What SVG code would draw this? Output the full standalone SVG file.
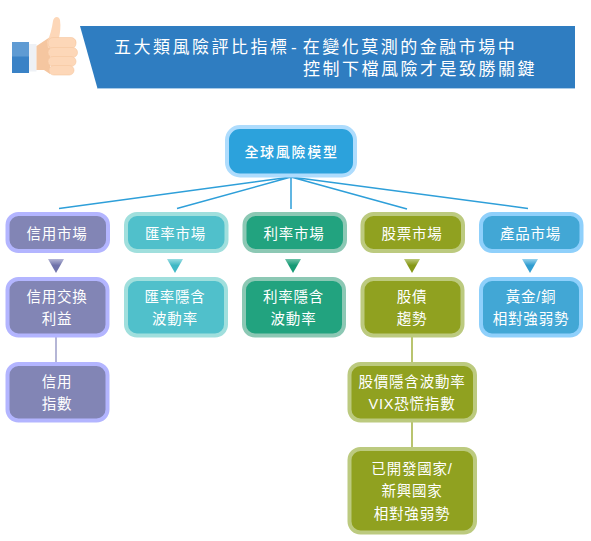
<svg xmlns="http://www.w3.org/2000/svg" width="591" height="541" viewBox="0 0 591 541">
<style>
text{font-family:"Liberation Sans","Noto Sans CJK TC",sans-serif;fill:#fff;text-anchor:middle}
.t{font-size:14.500px;letter-spacing:.8px}
.root{font-size:14px;letter-spacing:1.700px;font-weight:500}
.h{font-size:17px;letter-spacing:2.500px;text-anchor:start}
.n{stroke-width:4}
.pu{fill:#8285b5;stroke:#b3b5ff}.te{fill:#50c0cb;stroke:#a0dfdd}.gr{fill:#22a37f;stroke:#8cc8b4}.ol{fill:#90a120;stroke:#bcca7f}.bl{fill:#42a7d5;stroke:#8fd0fb}
.c{fill:none;stroke:#2e9fd9;stroke-width:1.5}
</style>
<defs>
<linearGradient id="gpu" x1="0" y1="0" x2="0" y2="1"><stop offset="0" stop-color="#b4b6d6"/><stop offset=".45" stop-color="#6f72aa"/></linearGradient>
<linearGradient id="gte" x1="0" y1="0" x2="0" y2="1"><stop offset="0" stop-color="#98dde2"/><stop offset=".45" stop-color="#3fb8c5"/></linearGradient>
<linearGradient id="ggr" x1="0" y1="0" x2="0" y2="1"><stop offset="0" stop-color="#6cc2a8"/><stop offset=".45" stop-color="#169a75"/></linearGradient>
<linearGradient id="gol" x1="0" y1="0" x2="0" y2="1"><stop offset="0" stop-color="#bcc878"/><stop offset=".45" stop-color="#869816"/></linearGradient>
<linearGradient id="gbl" x1="0" y1="0" x2="0" y2="1"><stop offset="0" stop-color="#96d2ee"/><stop offset=".45" stop-color="#309dd0"/></linearGradient>
</defs>
<g id="banner">
<polygon points="80,26 575,26 575,88.500 97.500,88.500" fill="#2f7dc1"/>
<rect x="97.500" y="88" width="477.500" height="1" fill="#a9cbe8"/>
<text class="h" x="114" y="53">五大類風險評比指標<tspan dx="1.500">-</tspan><tspan dx="3.500">在變化莫測的金融市場中</tspan></text>
<text class="h" x="303" y="74.500">控制下檔風險才是致勝關鍵</text>
</g>
<g id="thumb">
<rect x="12" y="42" width="17" height="31" fill="#3a82c6"/>
<rect x="12" y="42" width="17" height="14.500" fill="#5f9bd3"/>
<rect x="29" y="44" width="7.500" height="27.500" fill="#eef1f6"/>
<path d="M36.500,46 L50,37 L50,74 L44,70 L36.500,70 Z" fill="#f5c6a0"/>
<path d="M47,42 C50,36 52,28 53,21 C54,16 59,16 60,20 C61,27 60,33 59,38 L72,38 Q77,39 76,44 L48,48 Z" fill="#fdd7b8"/>
<rect x="48" y="37.500" width="28" height="11" rx="5" fill="#fdd7b8" stroke="#f5c6a0" stroke-width=".6"/>
<rect x="48" y="47.500" width="29.500" height="10" rx="5" fill="#fdd7b8" stroke="#f5c6a0" stroke-width=".6"/>
<rect x="48" y="56.500" width="28" height="10" rx="5" fill="#fdd7b8" stroke="#f5c6a0" stroke-width=".6"/>
<rect x="49" y="65.500" width="25" height="9.500" rx="4.700" fill="#fdd7b8" stroke="#f5c6a0" stroke-width=".6"/>
</g>
<g id="connectors">
<path class="c" d="M291,177 L59,208.500M291,177 L177,208.500M291,177 L291,209M291,177 L407,209M291,177 L528,208.500"/>
<path d="M56,337 V362" fill="none" stroke="#9d9ec8" stroke-width="1.500"/>
<path d="M412,337 V362M412,422 V447" fill="none" stroke="#a3b140" stroke-width="1.500"/>
<polygon points="48,259 64,259 56,273" fill="url(#gpu)"/>
<polygon points="167,259 183,259 175,273" fill="url(#gte)"/>
<polygon points="285,259 301,259 293,273" fill="url(#ggr)"/>
<polygon points="404,259 420,259 412,273" fill="url(#gol)"/>
<polygon points="522,259 538,259 530,273" fill="url(#gbl)"/>
</g>
<g id="n-root"><rect x="227" y="127" width="128" height="48.500" rx="13" fill="#2ca2dc" stroke="#aedcfd" stroke-width="4"/><text class="root" x="291.500" y="157">全球風險模型</text></g>
<g id="n-credit"><rect class="n pu" x="7.500" y="214" width="100.500" height="37" rx="11"/><text class="t" x="57" y="239">信用市場</text></g>
<g id="n-fx"><rect class="n te" x="126" y="214" width="100.500" height="37" rx="11"/><text class="t" x="175.500" y="239">匯率市場</text></g>
<g id="n-rate"><rect class="n gr" x="244.500" y="214" width="100.500" height="37" rx="11"/><text class="t" x="294" y="239">利率市場</text></g>
<g id="n-stock"><rect class="n ol" x="362.500" y="214" width="100.500" height="37" rx="11"/><text class="t" x="412" y="239">股票市場</text></g>
<g id="n-commodity"><rect class="n bl" x="481" y="214" width="100.500" height="37" rx="11"/><text class="t" x="530.500" y="239">產品市場</text></g>
<g id="n-cds"><rect class="n pu" x="7.500" y="279" width="100" height="56.500" rx="11"/><text class="t" x="57" y="302">信用交換</text><text class="t" x="57" y="324">利益</text></g>
<g id="n-fxvol"><rect class="n te" x="126" y="279" width="100" height="56.500" rx="11"/><text class="t" x="175" y="302">匯率隱含</text><text class="t" x="175" y="324">波動率</text></g>
<g id="n-ratevol"><rect class="n gr" x="244" y="279" width="100" height="56.500" rx="11"/><text class="t" x="293.500" y="302">利率隱含</text><text class="t" x="293.500" y="324">波動率</text></g>
<g id="n-trend"><rect class="n ol" x="362.500" y="279" width="100" height="56.500" rx="11"/><text class="t" x="412" y="302">股債</text><text class="t" x="412" y="324">趨勢</text></g>
<g id="n-gold"><rect class="n bl" x="481" y="279" width="100" height="56.500" rx="11"/><text class="t" x="531" y="302">黃金/銅</text><text class="t" x="531" y="324">相對強弱勢</text></g>
<g id="n-cindex"><rect class="n pu" x="7.500" y="364" width="100" height="56.500" rx="11"/><text class="t" x="57" y="387">信用</text><text class="t" x="57" y="409">指數</text></g>
<g id="n-vix"><rect class="n ol" x="349.500" y="364" width="125.500" height="56.500" rx="11"/><text class="t" x="412" y="387">股價隱含波動率</text><text class="t" x="412" y="409">VIX恐慌指數</text></g>
<g id="n-dm"><rect class="n ol" x="349.500" y="449" width="125.500" height="83.500" rx="11"/><text class="t" x="412" y="474">已開發國家/</text><text class="t" x="412" y="496">新興國家</text><text class="t" x="412" y="519">相對強弱勢</text></g>
</svg>
